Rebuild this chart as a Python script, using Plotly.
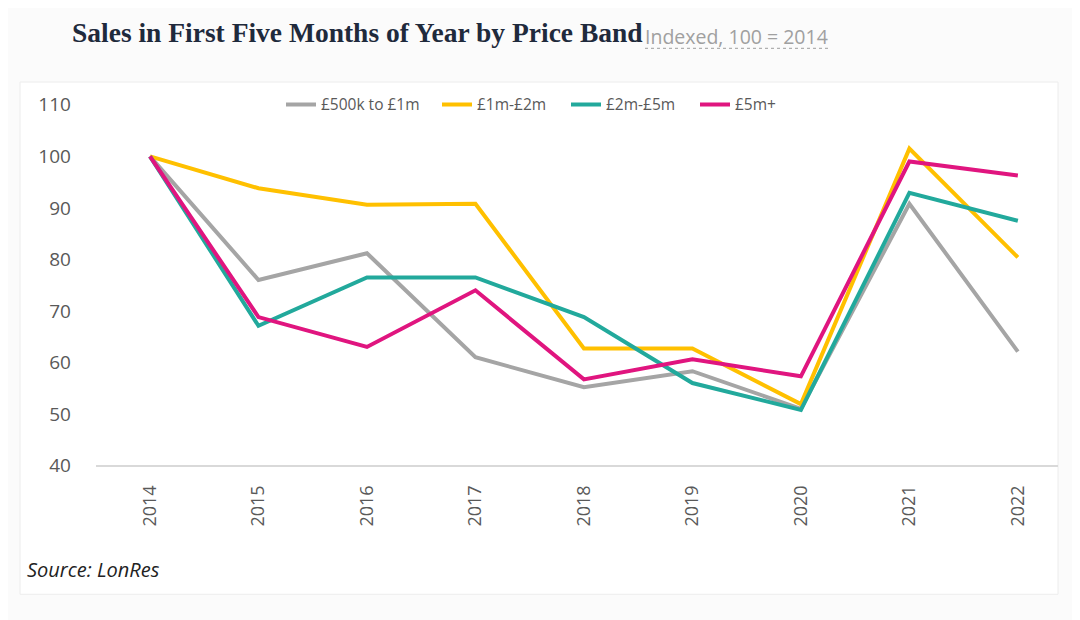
import plotly.graph_objects as go

years = [2014, 2015, 2016, 2017, 2018, 2019, 2020, 2021, 2022]
band_names = ["£500k to £1m", "£1m-£2m", "£2m-£5m", "£5m+"]
s_500k_1m = [100, 76.0, 81.2, 61.0, 55.2, 58.3, 51.0, 90.8, 62.1]
s_1m_2m = [100, 93.8, 90.6, 90.8, 62.7, 62.7, 51.9, 101.5, 80.4]
s_2m_5m = [100, 67.1, 76.5, 76.5, 68.8, 56.0, 50.8, 92.9, 87.5]
s_5m_plus = [100, 68.8, 63.0, 74.0, 56.7, 60.6, 57.3, 99.0, 96.3]
y_ticks = [40, 50, 60, 70, 80, 90, 100, 110]

series = [s_500k_1m, s_1m_2m, s_2m_5m, s_5m_plus]
colors = ["#A5A5A5", "#FFC000", "#22A99C", "#E0157F"]
legend_ids = ["legend", "legend2", "legend3", "legend4"]
legend_x_px = [281, 437, 566, 695]

W, H = 1080, 620
fig = go.Figure()
for name, vals, col, lid in zip(band_names, series, colors, legend_ids):
    fig.add_trace(go.Scatter(x=years, y=vals, name=name, mode="lines",
                             line=dict(color=col, width=4), legend=lid))

# map target screen pixel positions to paper fractions
def px(x):
    return (x - 8) / W

def py(y):
    return 1 - ((y - 18.4) / 0.967) / H

legend_layout = {}
for lid, lx in zip(legend_ids, legend_x_px):
    legend_layout[lid] = dict(orientation="h", x=px(lx), y=py(103), xanchor="left",
                              yanchor="middle", font=dict(size=15.5, color="#595959"),
                              bgcolor="rgba(0,0,0,0)", itemwidth=30)

fig.update_layout(
    width=W, height=H,
    margin=dict(l=0, r=0, t=0, b=0),
    paper_bgcolor="#fbfbfb",
    plot_bgcolor="rgba(0,0,0,0)",
    font=dict(family="Open Sans, Noto Sans, sans-serif", color="#595959"),
    showlegend=True,
    **legend_layout,
    xaxis=dict(domain=[px(95.75), px(1058)], range=[2013.5, 2022.37],
               tickvals=years, ticktext=[str(y) for y in years], tickangle=-90,
               showgrid=False, zeroline=False, showline=True, linecolor="#D9D9D9",
               linewidth=1.5, ticks="outside", ticklen=11, tickcolor="rgba(0,0,0,0)",
               tickfont=dict(size=18, color="#595959")),
    yaxis=dict(domain=[py(467), py(103)], range=[40, 110], tickvals=y_ticks,
               showgrid=False, zeroline=False, showline=False,
               ticks="outside", ticklen=20, tickcolor="rgba(0,0,0,0)",
               tickfont=dict(size=19, color="#595959")),
    shapes=[
        dict(type="rect", xref="paper", yref="paper", x0=px(20), x1=px(1058),
             y0=py(597), y1=py(80), fillcolor="white", line=dict(color="#ececec", width=1),
             layer="below"),
        dict(type="line", xref="paper", yref="paper", x0=px(645), x1=px(829),
             y0=py(46), y1=py(46), line=dict(color="#b0b0b0", width=1.2, dash="dot")),
    ],
    annotations=[
        dict(text="<b>Sales in First Five Months of Year by Price Band</b>", xref="paper", yref="paper",
             x=px(70), y=py(30), xanchor="left", yanchor="middle", showarrow=False,
             font=dict(family="Liberation Serif, DejaVu Serif, serif", size=27.5, color="#1f2a3c")),
        dict(text="Indexed, 100 = 2014", xref="paper", yref="paper",
             x=px(643), y=py(34), xanchor="left", yanchor="middle", showarrow=False,
             font=dict(family="Open Sans, sans-serif", size=19.5, color="#a0a0a0")),
        dict(text="<i>Source: LonRes</i>", xref="paper", yref="paper",
             x=px(25), y=py(572), xanchor="left", yanchor="middle", showarrow=False,
             font=dict(family="Open Sans, sans-serif", size=20, color="#222222")),
    ],
)

fig.write_html("out.html")
